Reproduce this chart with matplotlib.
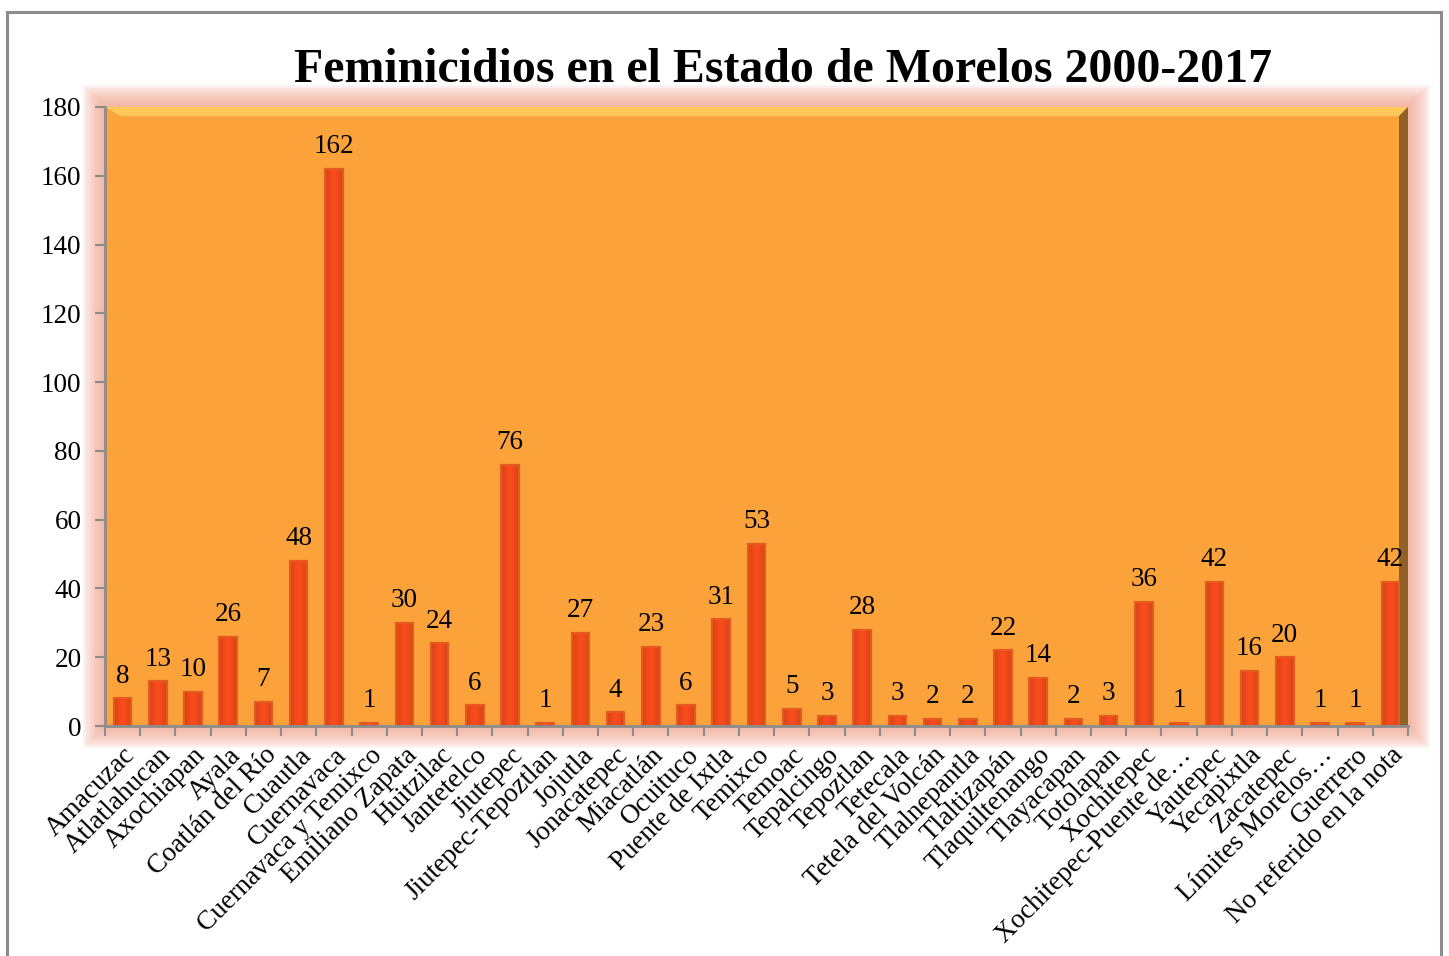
import numpy as np
import matplotlib.pyplot as plt
from matplotlib.colors import LinearSegmentedColormap
from matplotlib.patches import Rectangle, Polygon

municipios = ["Amacuzac", "Atlatlahucan", "Axochiapan", "Ayala", "Coatlán del Río",
              "Cuautla", "Cuernavaca", "Cuernavaca y Temixco", "Emiliano Zapata",
              "Huitzilac", "Jantetelco", "Jiutepec", "Jiutepec-Tepoztlan", "Jojutla",
              "Jonacatepec", "Miacatlán", "Ocuituco", "Puente de Ixtla", "Temixco",
              "Temoac", "Tepalcingo", "Tepoztlan", "Tetecala", "Tetela del Volcán",
              "Tlalnepantla", "Tlaltizapán", "Tlaquiltenango", "Tlayacapan",
              "Totolapan", "Xochitepec", "Xochitepec-Puente de…", "Yautepec",
              "Yecapixtla", "Zacatepec", "Límites Morelos…", "Guerrero",
              "No referido en la nota"]
casos = [8, 13, 10, 26, 7, 48, 162, 1, 30, 24, 6, 76, 1, 27, 4, 23, 6, 31, 53,
         5, 3, 28, 3, 2, 2, 22, 14, 2, 3, 36, 1, 42, 16, 20, 1, 1, 42]
yticks = [0, 20, 40, 60, 80, 100, 120, 140, 160, 180]

plt.rcParams["font.family"] = ["Liberation Serif", "DejaVu Serif"]

fig = plt.figure(figsize=(14.49, 9.56), dpi=100)
fig.patch.set_facecolor("white")
# outer frame
fig.patches.append(Rectangle((7 / 1449, -0.01), 1434 / 1449, 1 - 12 / 956 + 0.01,
                             transform=fig.transFigure, fill=False,
                             edgecolor="#8c8c8c", linewidth=2.2, zorder=-2))

L, B, W, H = 105 / 1449, 1 - 726 / 956, (1408 - 105) / 1449, (726 - 107) / 956

# soft glow around the plot area
for i in range(14, 0, -1):
    px = i * 1.6
    fig.patches.append(Rectangle((L - px / 1449, B - px / 956), W + 2 * px / 1449,
                                 H + 2 * px / 956, transform=fig.transFigure,
                                 facecolor="#f2a48e", edgecolor="none",
                                 alpha=0.09, zorder=-1))

ax = fig.add_axes([L, B, W, H])
ax.set_zorder(1)
ax.set_facecolor("#fca23a")
x = np.arange(len(casos))
bars = ax.bar(x, casos, width=0.5, color="#ff4b1c", edgecolor="#e0561c",
              linewidth=1.5, zorder=3)

# shade each bar: darker sides, lighter centre
cmap = LinearSegmentedColormap.from_list("b", ["#d8451a", "#ff4d1c"])
for b in bars:
    bx, bw, bh = b.get_x(), b.get_width(), b.get_height()
    grad = np.array([[0.0, 0.6, 1.0, 0.6, 0.0]])
    img = ax.imshow(grad, extent=(bx, bx + bw, 0, bh), aspect="auto", cmap=cmap,
                    interpolation="bicubic", zorder=3.5)
    img.set_clip_path(b)
    ax.add_patch(Rectangle((bx, 0), bw, bh, fill=False, edgecolor="#e65a1e",
                           linewidth=1.5, zorder=4))

for xi, v in zip(x, casos):
    ax.annotate(str(v), (xi, v), xytext=(0, 7), textcoords="offset points",
                ha="center", va="bottom", fontsize=19.5, zorder=5)

ax.set_xlim(-0.5, len(casos) - 0.5)
ax.set_ylim(0, 180)
ax.set_yticks(yticks)
ax.tick_params(axis="y", labelsize=19.5, length=7, width=1.5, color="#8c8c8c",
               direction="out", pad=10)
ax.set_xticks(x)
ax.set_xticklabels(municipios, rotation=45, ha="right", rotation_mode="anchor",
                   fontsize=19.5)
ax.tick_params(axis="x", length=0, pad=12)
ax.set_xticks(np.arange(len(casos) + 1) - 0.5, minor=True)
ax.tick_params(axis="x", which="minor", length=7, width=1.5, color="#8c8c8c",
               direction="out")

for s in ["top", "right"]:
    ax.spines[s].set_visible(False)
for s in ["left", "bottom"]:
    ax.spines[s].set_color("#8c8c8c")
    ax.spines[s].set_linewidth(2)
    ax.spines[s].set_zorder(6)

# bevel: light strip on top, dark shadow on the right
ax.add_patch(Polygon([[0, 1], [1, 1], [0.993, 0.985], [0.012, 0.985]],
                     closed=True, transform=ax.transAxes, facecolor="#ffc65a",
                     edgecolor="none", zorder=2))
ax.add_patch(Polygon([[1, 1], [1, 0], [0.993, 0.0], [0.993, 0.985]],
                     closed=True, transform=ax.transAxes, facecolor="#6b4a22",
                     edgecolor="none", alpha=0.75, zorder=2))

fig.text(783 / 1449, 1 - 70 / 956, "Feminicidios en el Estado de Morelos 2000-2017",
         ha="center", va="center", fontsize=34.5, fontweight="bold")

plt.savefig("out.png", dpi=100)
